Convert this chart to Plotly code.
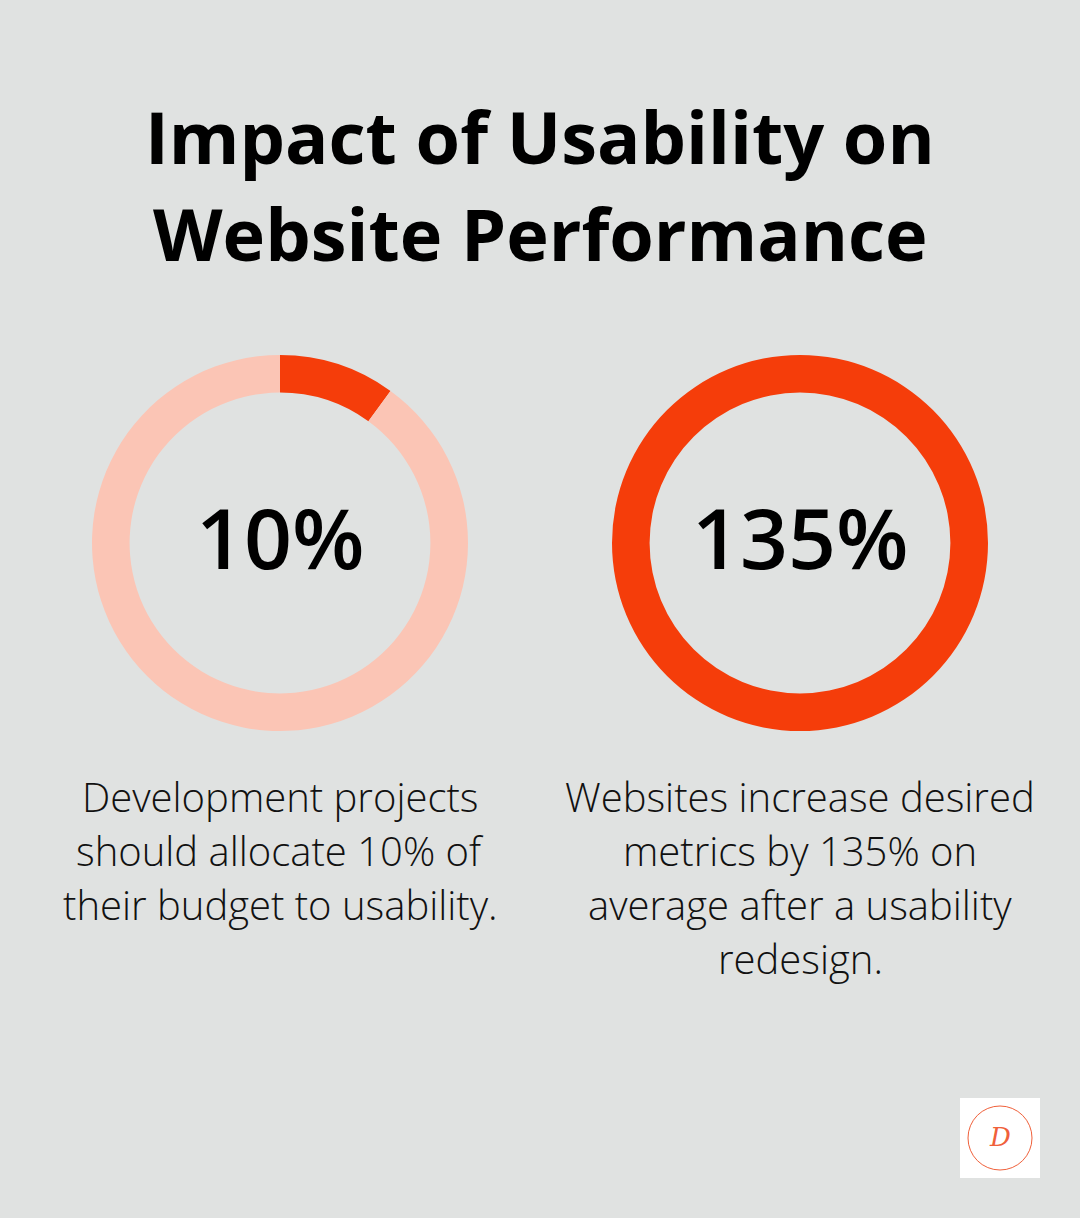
import plotly.graph_objects as go

W, H = 1080, 1218

title_lines = ["Impact of Usability on", "Website Performance"]
stat_labels = ["10%", "135%"]
stat_shares = [10, 100]          # filled share of each ring, in percent
descriptions = [
    ["Development projects", "should allocate 10% of", "their budget to usability."],
    ["Websites increase desired", "metrics by 135% on", "average after a usability", "redesign."],
]

BG = "#E0E2E1"
ORANGE = "#F53D0A"
LIGHT = "#FBC5B5"

fig = go.Figure()

centers_x = [280, 800]
cy = 543
r_out = 188
for cx, share in zip(centers_x, stat_shares):
    if share >= 100:
        vals, cols = [share], [ORANGE]
    else:
        vals, cols = [share, 100 - share], [ORANGE, LIGHT]
    fig.add_trace(go.Pie(
        values=vals,
        marker=dict(colors=cols, line=dict(width=0)),
        hole=0.8,
        sort=False,
        direction="clockwise",
        rotation=0,
        textinfo="none",
        hoverinfo="skip",
        showlegend=False,
        domain=dict(x=[(cx - r_out) / W, (cx + r_out) / W],
                    y=[1 - (cy + r_out) / H, 1 - (cy - r_out) / H]),
    ))

# Title (one annotation per line for exact spacing)
for i, line in enumerate(title_lines):
    fig.add_annotation(
        x=0.5, y=1 - (136 + 97 * i) / H, xref="paper", yref="paper",
        text=line, showarrow=False,
        font=dict(family="Open Sans", size=72, color="#000000", weight=700),
        xanchor="center", yanchor="middle", align="center",
    )

# Stat labels
for cx, lab in zip(centers_x, stat_labels):
    fig.add_annotation(
        x=cx / W, y=1 - 536 / H, xref="paper", yref="paper",
        text=lab, showarrow=False,
        font=dict(family="Open Sans", size=84, color="#000000", weight=600),
        xanchor="center", yanchor="middle",
    )

# Descriptions
for cx, lines in zip(centers_x, descriptions):
    for i, line in enumerate(lines):
        fig.add_annotation(
            x=cx / W, y=1 - (796 + 54 * i) / H, xref="paper", yref="paper",
            text=line, showarrow=False,
            font=dict(family="Open Sans", size=40, color="#111111", weight=300),
            xanchor="center", yanchor="middle", align="center",
        )

# Logo
fig.add_shape(type="rect", xref="paper", yref="paper",
              x0=960 / W, x1=1040 / W, y0=1 - 1178 / H, y1=1 - 1098 / H,
              fillcolor="white", line=dict(width=0))
fig.add_shape(type="circle", xref="paper", yref="paper",
              x0=968 / W, x1=1032 / W, y0=1 - 1170 / H, y1=1 - 1106 / H,
              fillcolor="rgba(0,0,0,0)", line=dict(color="#F0603A", width=1))
fig.add_annotation(x=1000 / W, y=1 - 1137 / H, xref="paper", yref="paper",
                   text="<i>D</i>", showarrow=False,
                   font=dict(family="DejaVu Serif", size=26, color="#F0603A"),
                   xanchor="center", yanchor="middle")

fig.update_layout(
    width=W, height=H,
    margin=dict(l=0, r=0, t=0, b=0),
    paper_bgcolor=BG, plot_bgcolor=BG,
    showlegend=False,
)

fig.write_html("out.html")
